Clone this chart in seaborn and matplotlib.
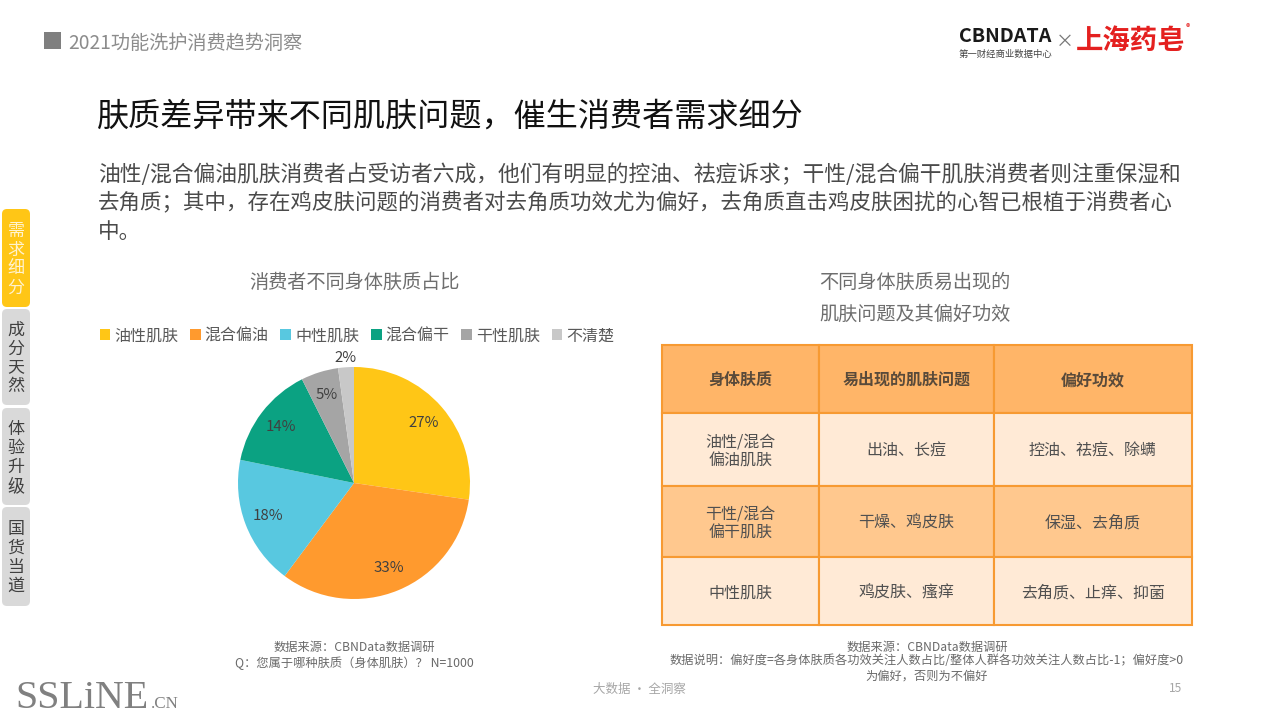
import matplotlib
matplotlib.use("Agg")
import matplotlib.pyplot as plt
from matplotlib.patches import FancyBboxPatch, Rectangle
import seaborn as sns

sns.set_theme(style="white")
plt.rcParams['font.family'] = ['Noto Sans CJK SC', 'DejaVu Sans']

skin_types = ["油性肌肤", "混合偏油", "中性肌肤", "混合偏干", "干性肌肤", "不清楚"]
skin_share = [27.3, 32.9, 18.0, 14.4, 5.2, 2.2]
skin_colors = sns.color_palette(["#FFC616", "#FF9A2E", "#58C8E0", "#0BA282", "#A5A5A5", "#C8C8C8"])

table_header = ["身体肤质", "易出现的肌肤问题", "偏好功效"]
table_rows = [
    ["油性/混合\n偏油肌肤", "出油、长痘", "控油、祛痘、除螨"],
    ["干性/混合\n偏干肌肤", "干燥、鸡皮肤", "保湿、去角质"],
    ["中性肌肤", "鸡皮肤、瘙痒", "去角质、止痒、抑菌"],
]
tab_labels = ["需\n求\n细\n分", "成\n分\n天\n然", "体\n验\n升\n级", "国\n货\n当\n道"]

W, H = 1280, 720
fig = plt.figure(figsize=(12.8, 7.2), dpi=100, facecolor="white")


def px(v):
    return v * 0.72


def axes_px(x0, y0, x1, y1, **kw):
    return fig.add_axes([x0 / W, 1 - y1 / H, (x1 - x0) / W, (y1 - y0) / H], **kw)


bg = axes_px(0, 0, W, H)
bg.set_xlim(0, W)
bg.set_ylim(H, 0)
bg.axis("off")
bg.set_zorder(5)
bg.patch.set_alpha(0)


def txt(x, y, s, size, color="#404040", ha="left", va="center", **kw):
    bg.text(x, y + 2, s, fontsize=px(size), color=color, ha=ha, va=va, **kw)


# header
bg.add_patch(Rectangle((44, 32), 17, 17, color="#7F7F7F", lw=0))
txt(68, 41, "2021功能洗护消费趋势洞察", 19.2, "#8C8C8C")

# logos
txt(959, 35, "CBNDATA", 19.7, "#1A1A1A", weight="bold")
txt(959, 52, "第一财经商业数据中心", 9.4, "#444444")
txt(1065, 40, "×", 18, "#777777", ha="center")
txt(1076, 39, "上海药皂", 27.4, "#E4201F", weight="black")
txt(1188, 26, "®", 9, "#E4201F", ha="center")

# headline and paragraph
txt(97, 115, "肤质差异带来不同肌肤问题，催生消费者需求细分", 32.1, "#111111")
para = [
    "油性/混合偏油肌肤消费者占受访者六成，他们有明显的控油、祛痘诉求；干性/混合偏干肌肤消费者则注重保湿和",
    "去角质；其中，存在鸡皮肤问题的消费者对去角质功效尤为偏好，去角质直击鸡皮肤困扰的心智已根植于消费者心",
    "中。",
]
for y, line, size in zip([173, 201, 230], para, [21.77, 21.45, 21.6]):
    txt(98, y, line, size, "#4A4A4A")

# side tabs
tab_boxes = [(209, 307), (309, 405), (408, 505), (507, 606)]
for i, ((y0, y1), label) in enumerate(zip(tab_boxes, tab_labels)):
    bg.add_patch(FancyBboxPatch((4, y0 + 2), 24, y1 - y0 - 4,
                                boxstyle="round,pad=2,rounding_size=5", lw=0,
                                fc="#FFC616" if i == 0 else "#D9D9D9"))
    txt(16, (y0 + y1) / 2 - 1, label, 17, "#FFF3D0" if i == 0 else "#404040",
        ha="center", linespacing=1.07)

# chart titles
txt(354, 280, "消费者不同身体肤质占比", 19.2, "#6E6E6E", ha="center")
txt(915, 280, "不同身体肤质易出现的", 19.2, "#6E6E6E", ha="center")
txt(915, 312, "肌肤问题及其偏好功效", 19.2, "#6E6E6E", ha="center")

# pie
ax = axes_px(238, 367, 470, 599)
wedges, _, autotexts = ax.pie(skin_share, colors=skin_colors, startangle=90, counterclock=False,
                              autopct="%.0f%%", pctdistance=0.79, radius=1.0,
                              wedgeprops={"linewidth": 0},
                              textprops={"fontsize": px(15), "color": "#404040"})
ax.set_xlim(-1, 1)
ax.set_ylim(-1, 1)
x, y = autotexts[-1].get_position()
autotexts[-1].set_position((x * 1.08 / 0.79, y * 1.08 / 0.79))
autotexts[-1].set_clip_on(False)
fig.legend(wedges, skin_types, ncols=6, loc="center left",
           bbox_to_anchor=(91.5 / W, 1 - 336 / H), frameon=False,
           handlelength=0.68, handleheight=0.68, handletextpad=0.25, columnspacing=0.72,
           borderpad=0, prop={"size": px(16)}, labelcolor="#595959")

# table
tx = axes_px(662, 345, 1192, 625)
tx.axis("off")
col_edges = [662, 819, 994, 1192]
row_edges = [345, 413, 486, 557, 625]
col_w = [(b - a) / 530 for a, b in zip(col_edges, col_edges[1:])]
row_h = [(b - a) / 280 for a, b in zip(row_edges, row_edges[1:])]
fills = ["#FFB568", "#FFEAD6", "#FFC88E", "#FFEAD6"]
all_rows = [table_header] + table_rows
tbl = tx.table(cellText=[[""] * 3 for _ in all_rows], colWidths=col_w, loc="center",
               cellLoc="center", bbox=[0, 0, 1, 1])
for (r, c), cell in tbl.get_celld().items():
    cell.set_height(row_h[r])
    cell.set_facecolor(fills[r])
    cell.set_edgecolor("#F79A32")
    cell.set_linewidth(1.5)
for r, row in enumerate(all_rows):
    for c, label in enumerate(row):
        cx = (col_edges[c] + col_edges[c + 1]) / 2
        cy = (row_edges[r] + row_edges[r + 1]) / 2
        if r == 0:
            txt(cx, cy - 1, label, 16, "#594A3A", ha="center", weight="bold")
        else:
            txt(cx, cy, label, 16, "#505050", ha="center", linespacing=1.17)

# footnotes
txt(354, 645, "数据来源：CBNData数据调研", 12.2, "#6A6A6A", ha="center")
txt(354, 661, "Q：您属于哪种肤质（身体肌肤）？ N=1000", 12.2, "#6A6A6A", ha="center")
txt(927, 645, "数据来源：CBNData数据调研", 12.2, "#6A6A6A", ha="center")
txt(927, 659, "数据说明：偏好度=各身体肤质各功效关注人数占比/整体人群各功效关注人数占比-1；偏好度>0", 12.2, "#6A6A6A", ha="center")
txt(927, 674, "为偏好，否则为不偏好", 12.2, "#6A6A6A", ha="center")
txt(639, 687, "大数据 · 全洞察", 12.5, "#A6A6A6", ha="center")
txt(1176, 686, "15", 12, "#A6A6A6", ha="center")

# watermark
bg.text(15, 708, "SSLiNE", fontsize=px(40), color="#808080", family="Liberation Serif", ha="left", va="baseline")
bg.text(151, 708, ".CN", fontsize=px(17), color="#808080", family="Liberation Serif", ha="left", va="baseline")

fig.savefig("out.png", dpi=100)
